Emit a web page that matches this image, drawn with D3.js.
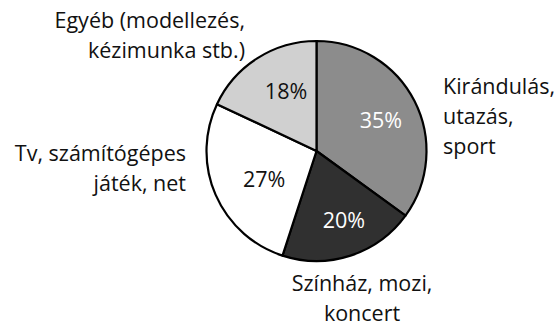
<!DOCTYPE html>
<html>
<head>
<meta charset="utf-8">
<script src="https://cdn.jsdelivr.net/npm/d3@7/dist/d3.min.js"></script>
<style>
  html, body { margin: 0; padding: 0; background: #fff; }
  svg { display: block; }
  text { font-family: "Open Sans", "Noto Sans", sans-serif; }
</style>
</head>
<body>
<svg id="chart" width="556" height="325"></svg>
<script>
// Leisure activities share
const categories = [
  ["Kirándulás,", "utazás,", "sport"],
  ["Színház, mozi,", "koncert"],
  ["Tv, számítógépes", "játék, net"],
  ["Egyéb (modellezés,", "kézimunka stb.)"]
];
const values = [35, 20, 27, 18];
const percentLabels = ["35%", "20%", "27%", "18%"];
const fills = ["#8c8c8c", "#303030", "#ffffff", "#d0d0d0"];
const percentColors = ["#ffffff", "#ffffff", "#111111", "#111111"];

// Layout for the category captions around the pie
const captionLayout = [
  { x: 443, y: 85, anchor: "start" },
  { x: 362, y: 282, anchor: "middle" },
  { x: 186, y: 152, anchor: "end" },
  { x: 245, y: 19, anchor: "end" }
];
// Percent label placement inside each slice: radius and angular nudge (degrees)
const pctPlacement = [
  { r: 71.5, nudge: 1.3 },
  { r: 74, nudge: -3.7 },
  { r: 59, nudge: -3.9 },
  { r: 68, nudge: 5.8 }
];

const width = 556, height = 325;
const cx = 316.5, cy = 151, radius = 110;
const lineGap = 30;
const fontSize = 21.5;

const svg = d3.select("#chart");
const g = svg.append("g").attr("transform", `translate(${cx},${cy})`);

const pie = d3.pie().sort(null).value(d => d);
const arcs = pie(values);

const arc = d3.arc().innerRadius(0).outerRadius(radius);

function pctPos(d, i) {
  const p = pctPlacement[i];
  const a = (d.startAngle + d.endAngle) / 2 + p.nudge * Math.PI / 180;
  return [p.r * Math.sin(a), -p.r * Math.cos(a)];
}

g.selectAll("path.slice")
  .data(arcs)
  .join("path")
  .attr("class", "slice")
  .attr("d", arc)
  .attr("fill", (d, i) => fills[i])
  .attr("stroke", "#000")
  .attr("stroke-width", 2.2)
  .attr("stroke-linejoin", "round");

g.selectAll("text.pct")
  .data(arcs)
  .join("text")
  .attr("class", "pct")
  .attr("transform", (d, i) => `translate(${pctPos(d, i)})`)
  .attr("text-anchor", "middle")
  .attr("dominant-baseline", "central")
  .attr("font-size", fontSize)
  .attr("fill", (d, i) => percentColors[i])
  .text((d, i) => percentLabels[i]);

const captions = svg.selectAll("text.cap")
  .data(categories)
  .join("text")
  .attr("class", "cap")
  .attr("text-anchor", (d, i) => captionLayout[i].anchor)
  .attr("font-size", fontSize)
  .attr("fill", "#111");

captions.selectAll("tspan")
  .data((d, i) => d.map((line, j) => ({ line, j, i })))
  .join("tspan")
  .attr("x", d => captionLayout[d.i].x)
  .attr("y", d => captionLayout[d.i].y + d.j * lineGap)
  .attr("dominant-baseline", "central")
  .text(d => d.line);
</script>
</body>
</html>
